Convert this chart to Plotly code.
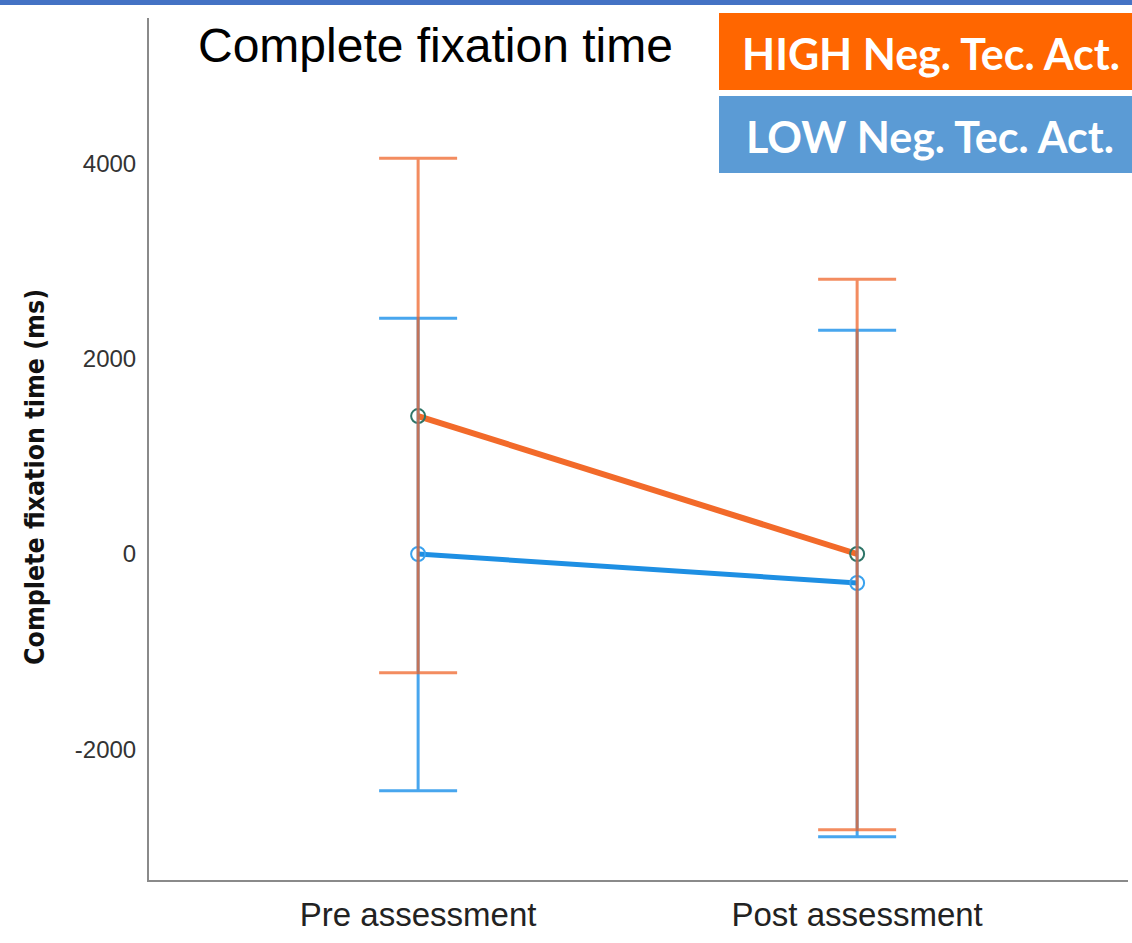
import plotly.graph_objects as go

# Assessment phases on the x axis
phases = ["Pre assessment", "Post assessment"]

# Group means and error-bar limits (ms)
high_mean = [1412, 0]
high_upper = [4051, 2813]
high_lower = [-1217, -2824]

low_mean = [0, -297]
low_upper = [2414, 2292]
low_lower = [-2425, -2895]

y_ticks = [-2000, 0, 2000, 4000]

ORANGE_LINE = "#F26A2A"
BLUE_LINE = "#1E8FE3"
ORANGE_ERR = "rgba(238,95,35,0.72)"
BLUE_ERR = "rgba(40,150,235,0.85)"

x_pos = list(range(len(phases)))

# plot-area geometry in pixels, used to place paper-referenced decorations
L, T, W, H = 149, 18, 979, 862


def px_x(p):
    return (p - L) / W


def px_y(p):
    return (T + H - p) / H


def err_arrays(mean, upper, lower):
    plus = [u - m for u, m in zip(upper, mean)]
    minus = [m - l for m, l in zip(mean, lower)]
    return plus, minus


fig = go.Figure()

# Mean lines with open-circle markers
fig.add_trace(go.Scatter(
    x=x_pos, y=low_mean, mode="lines+markers",
    line=dict(color=BLUE_LINE, width=5),
    marker=dict(size=14, color="rgba(0,0,0,0)",
                line=dict(color="#3AA2EE", width=2)),
    showlegend=False, hoverinfo="skip"))
fig.add_trace(go.Scatter(
    x=x_pos, y=high_mean, mode="lines+markers",
    line=dict(color=ORANGE_LINE, width=6),
    marker=dict(size=14, color="rgba(0,0,0,0)",
                line=dict(color="#2E7568", width=2)),
    showlegend=False, hoverinfo="skip"))

# Error bars drawn on top so the stems cross the markers
for mean, upper, lower, col in [
    (low_mean, low_upper, low_lower, BLUE_ERR),
    (high_mean, high_upper, high_lower, ORANGE_ERR),
]:
    plus, minus = err_arrays(mean, upper, lower)
    fig.add_trace(go.Scatter(
        x=x_pos, y=mean, mode="markers",
        marker=dict(size=1, color="rgba(0,0,0,0)"),
        error_y=dict(type="data", symmetric=False, array=plus,
                     arrayminus=minus, color=col, thickness=3, width=39),
        showlegend=False, hoverinfo="skip"))

fig.update_layout(
    width=1132, height=943,
    margin=dict(l=L, r=1132 - L - W, t=T, b=943 - T - H),
    paper_bgcolor="white", plot_bgcolor="white",
    xaxis=dict(
        range=[-0.613, 1.617],
        tickvals=x_pos, ticktext=phases,
        showgrid=False, zeroline=False,
        showline=True, linecolor="#8a8a8a", linewidth=2,
        ticks="", ticklabelstandoff=4,
        tickfont=dict(family="Liberation Sans, Arial", size=33, color="#222222"),
    ),
    yaxis=dict(
        range=[-3338, 5488],
        tickvals=y_ticks, ticktext=[str(v) for v in y_ticks],
        showgrid=False, zeroline=False,
        showline=True, linecolor="#8a8a8a", linewidth=2,
        ticks="", ticklabelstandoff=6,
        tickfont=dict(family="Liberation Sans, Arial", size=24, color="#333333"),
    ),
    shapes=[
        # top banner strip
        dict(type="rect", xref="paper", yref="paper",
             x0=px_x(0), x1=px_x(1132), y0=px_y(5), y1=px_y(0),
             fillcolor="#4472C4", line=dict(width=0), layer="above"),
        # legend boxes
        dict(type="rect", xref="paper", yref="paper",
             x0=px_x(719), x1=px_x(1132), y0=px_y(90), y1=px_y(13),
             fillcolor="#FF6600", line=dict(width=0), layer="above"),
        dict(type="rect", xref="paper", yref="paper",
             x0=px_x(719), x1=px_x(1132), y0=px_y(173), y1=px_y(96),
             fillcolor="#5B9BD5", line=dict(width=0), layer="above"),
    ],
    annotations=[
        dict(text="Complete fixation time", xref="paper", yref="paper",
             x=px_x(196), y=px_y(46),
             xanchor="left", yanchor="middle", showarrow=False,
             font=dict(family="Liberation Sans, Arial", size=48, color="#000000")),
        dict(text="<b>HIGH Neg. Tec. Act.</b>", xref="paper", yref="paper",
             x=px_x(931), y=px_y(53),
             xanchor="center", yanchor="middle", showarrow=False,
             font=dict(family="Lato, Open Sans", size=43, color="white")),
        dict(text="<b>LOW Neg. Tec. Act.</b>", xref="paper", yref="paper",
             x=px_x(930), y=px_y(136),
             xanchor="center", yanchor="middle", showarrow=False,
             font=dict(family="Lato, Open Sans", size=43, color="white")),
        # y-axis title
        dict(text="<b>Complete fixation time (ms)</b>", xref="paper", yref="paper",
             x=px_x(34), y=px_y(477), textangle=-90,
             xanchor="center", yanchor="middle", showarrow=False,
             font=dict(family="DejaVu Sans Condensed, Arial", size=26.5,
                       color="#111111")),
    ],
)

fig.write_html("out.html")
